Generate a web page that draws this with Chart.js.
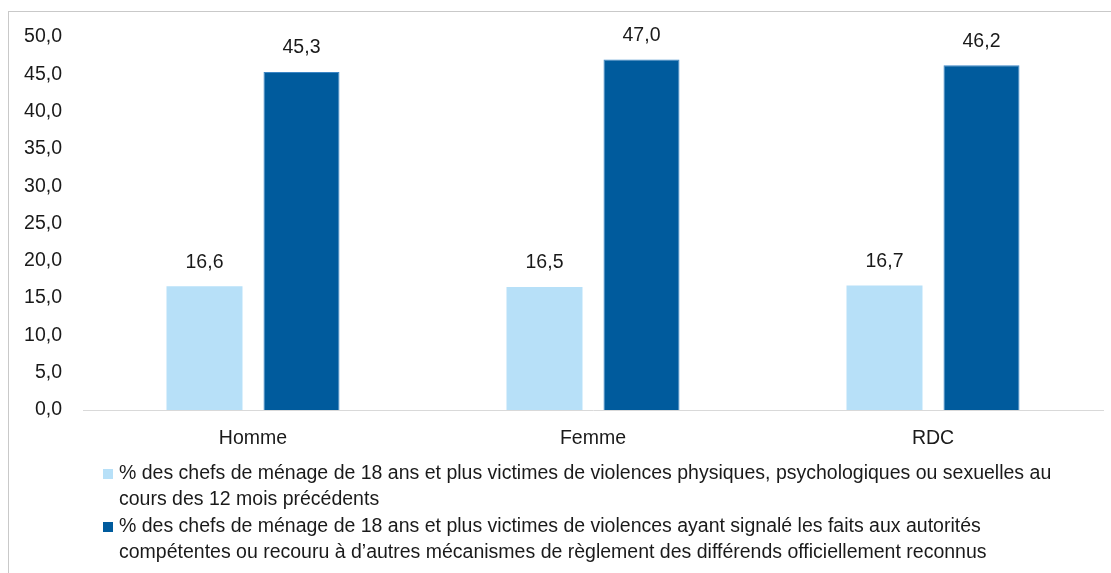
<!DOCTYPE html>
<html>
<head>
<meta charset="utf-8">
<script src="https://cdn.jsdelivr.net/npm/chart.js@4.4.1/dist/chart.umd.min.js"></script>
<style>
    html, body { margin: 0; padding: 0; background: #fff; }
    #wrap { position: relative; width: 1111px; height: 573px; overflow: hidden; }
    #frame {
        position: absolute; left: 8px; top: 11px; width: 1200px; height: 700px;
        border: 1px solid #c9c9c9; pointer-events: none;
    }
    canvas { position: absolute; left: 0; top: 0; }
</style>
</head>
<body>
<div id="wrap">
    <canvas id="chart" width="1111" height="573"></canvas>
    <div id="frame"></div>
</div>
<script>
// Chart data
const categories = ['Homme', 'Femme', 'RDC'];
const victimes = [16.6, 16.5, 16.7];
const signales = [45.3, 47.0, 46.2];
const legendLines = [
    ['% des chefs de ménage de 18 ans et plus victimes de violences physiques, psychologiques ou sexuelles au',
     'cours des 12 mois précédents'],
    ['% des chefs de ménage de 18 ans et plus victimes de violences ayant signalé les faits aux autorités',
     'compétentes ou recouru à d\u2019autres mécanismes de règlement des différends officiellement reconnus']
];
const colors = ['#b7e0f8', '#005b9d'];

const FONT = '"Liberation Sans", Arial, sans-serif';
const SIZE = 19.5;
const fmt = v => v.toFixed(1).replace('.', ',');

// value labels above bars
const valueLabels = {
    id: 'valueLabels',
    afterDatasetsDraw(chart) {
        const ctx = chart.ctx;
        ctx.save();
        ctx.font = SIZE + 'px ' + FONT;
        ctx.fillStyle = '#1a1a1a';
        ctx.textAlign = 'center';
        ctx.textBaseline = 'middle';
        chart.data.datasets.forEach((ds, i) => {
            chart.getDatasetMeta(i).data.forEach((bar, j) => {
                ctx.fillText(fmt(ds.data[j]), bar.x, bar.y - 24);
            });
        });
        ctx.restore();
    }
};

// wrapped legend drawn under the axis
const wrappedLegend = {
    id: 'wrappedLegend',
    afterDraw(chart) {
        const ctx = chart.ctx;
        ctx.save();
        ctx.font = SIZE + 'px ' + FONT;
        ctx.textBaseline = 'middle';
        ctx.textAlign = 'left';
        const starts = [474, 527];
        legendLines.forEach((lines, i) => {
            const y0 = starts[i];
            ctx.fillStyle = colors[i];
            ctx.fillRect(103, y0 - 5, 10, 10);
            ctx.fillStyle = '#1a1a1a';
            lines.forEach((t, k) => ctx.fillText(t, 119, y0 + k * 26));
        });
        ctx.restore();
    }
};

new Chart(document.getElementById('chart'), {
    type: 'bar',
    data: {
        labels: categories,
        datasets: [
            { data: victimes, backgroundColor: colors[0] },
            { data: signales, backgroundColor: colors[1], borderColor: '#3b86c6', borderWidth: 1, borderSkipped: 'bottom' }
        ]
    },
    options: {
        responsive: false,
        animation: false,
        layout: { padding: { top: 37, right: 8, left: 0, bottom: 0 } },
        categoryPercentage: 0.5706,
        barPercentage: 0.7835,
        plugins: {
            legend: { display: false },
            tooltip: { enabled: false }
        },
        scales: {
            x: {
                grid: { display: false, drawTicks: false },
                border: { color: '#d9d9d9', width: 1 },
                ticks: { color: '#1a1a1a', font: { family: FONT, size: SIZE }, padding: 17 },
                afterFit(scale) { scale.height = 163; }
            },
            y: {
                min: 0,
                max: 50,
                grid: { display: false, drawTicks: false },
                border: { display: false },
                ticks: {
                    stepSize: 5,
                    color: '#1a1a1a',
                    font: { family: FONT, size: SIZE },
                    padding: 21,
                    callback: v => fmt(v)
                },
                afterFit(scale) { scale.width = 83; }
            }
        }
    },
    plugins: [valueLabels, wrappedLegend]
});
</script>
</body>
</html>
